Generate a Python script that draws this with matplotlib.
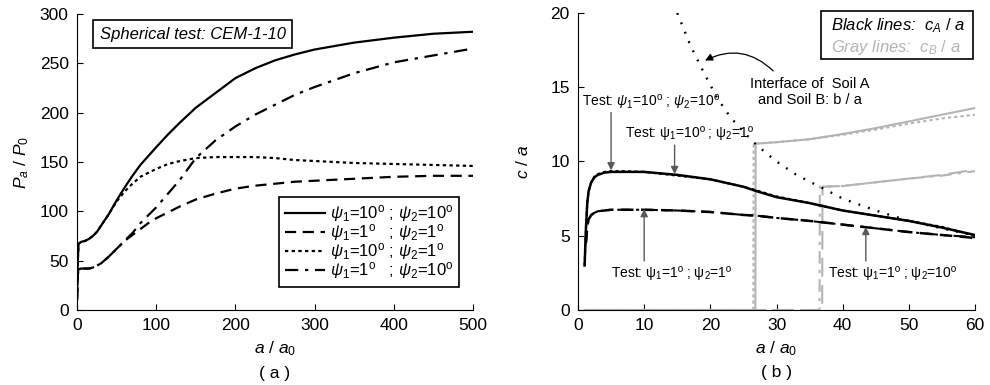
import matplotlib
matplotlib.use("Agg")
import matplotlib.pyplot as plt
from matplotlib.patches import Rectangle

plt.rcParams["font.family"] = ["Liberation Sans", "DejaVu Sans"]
plt.rcParams["mathtext.fontset"] = "custom"
plt.rcParams["mathtext.rm"] = "Liberation Sans"
plt.rcParams["mathtext.it"] = "Liberation Sans:italic"
plt.rcParams["font.size"] = 12.5

# ---- (a) P_a / P_0 vs a / a0 ----
xa = [0, 1, 2, 5, 10, 15, 20, 25, 30, 40, 50, 60, 70, 80, 90, 100, 115, 130, 150, 175,
      200, 225, 250, 275, 300, 350, 400, 450, 500]
p_10_10 = [12, 50, 67, 69, 70, 72, 75, 79, 85, 97, 111, 124, 136, 147, 156, 165, 178, 190, 205, 220,
           235, 245, 253, 259, 264, 271, 276, 280, 282]
p_1_1 = [10, 35, 41, 42, 42, 42, 43, 45, 47, 54, 62, 70, 76, 82, 88, 93, 99, 105, 112, 118,
         123, 126, 128, 130, 131, 133, 135, 136, 136]
p_10_1 = [12, 50, 67, 69, 70, 72, 75, 79, 85, 97, 110, 120, 128, 135, 139, 143, 148, 151, 154, 155,
          155, 155, 154, 152, 151, 149, 148, 147, 146]
p_1_10 = [10, 35, 41, 42, 42, 42, 43, 45, 47, 54, 62, 70, 78, 88, 96, 104, 118, 132, 154, 172,
          186, 198, 208, 218, 226, 240, 251, 258, 265]

labels = [r"$\psi_1$=10$^{\rm o}$ ; $\psi_2$=10$^{\rm o}$",
          r"$\psi_1$=1$^{\rm o}$   ; $\psi_2$=1$^{\rm o}$",
          r"$\psi_1$=10$^{\rm o}$ ; $\psi_2$=1$^{\rm o}$",
          r"$\psi_1$=1$^{\rm o}$   ; $\psi_2$=10$^{\rm o}$"]

# ---- (b) c / a vs a / a0 ----
xb = [1.0, 1.2, 1.4, 1.6, 2, 2.5, 3, 4, 5, 7, 10, 15, 20, 25, 27, 30, 35, 37, 40, 45, 50, 55, 60]
cA_10_10 = [3.0, 5.5, 7.2, 8.0, 8.6, 8.95, 9.1, 9.25, 9.3, 9.3, 9.3, 9.1, 8.8, 8.3, 8.0, 7.6, 7.2,
            7.0, 6.7, 6.35, 6.0, 5.55, 5.05]
cA_10_1 = [3.0, 5.5, 7.2, 8.0, 8.6, 9.0, 9.15, 9.3, 9.35, 9.35, 9.3, 9.05, 8.8, 8.3, 8.05, 7.65, 7.2,
           7.0, 6.7, 6.35, 6.0, 5.6, 5.0]
xb2 = [1.2, 1.4, 1.6, 2, 2.5, 3, 4, 5, 10, 15, 20, 25, 27, 30, 35, 37, 40, 45, 50, 55, 60]
cA_1_1 = [4.5, 5.6, 6.1, 6.4, 6.55, 6.65, 6.7, 6.75, 6.75, 6.7, 6.6, 6.4, 6.35, 6.2, 6.0, 5.9,
          5.75, 5.5, 5.25, 5.05, 4.85]
cA_1_10 = [4.5, 5.6, 6.1, 6.4, 6.55, 6.65, 6.7, 6.75, 6.75, 6.7, 6.6, 6.4, 6.35, 6.2, 6.0, 5.9,
           5.75, 5.5, 5.25, 5.05, 4.9]

xg1 = [1, 26.8, 26.85, 30, 35, 40, 45, 50, 55, 60]
cB_10_10 = [0, 0, 11.2, 11.3, 11.5, 11.85, 12.25, 12.7, 13.15, 13.6]
xg2 = [1, 26.5, 26.55, 30, 35, 40, 45, 50, 55, 60]
cB_10_1 = [0, 0, 11.2, 11.3, 11.5, 11.8, 12.15, 12.55, 12.9, 13.15]
xg3 = [1, 36.9, 36.95, 40, 45, 50, 55, 60]
cB_1_1 = [0, 0, 8.3, 8.35, 8.6, 8.85, 9.1, 9.45]
xg4 = [1, 36.5, 36.55, 40, 45, 50, 55, 60]
cB_1_10 = [0, 0, 8.3, 8.35, 8.6, 8.85, 9.05, 9.35]

x_int = [15, 17, 19, 21, 23, 25, 27, 30, 33, 37, 40, 45, 50, 55, 60]
b_over_a = [20, 17.8, 16.0, 14.3, 13.0, 12.0, 11.1, 10.0, 9.1, 8.2, 7.5, 6.7, 6.0, 5.5, 5.0]

gray = "#b4b4b4"
dash = (0, (5, 3))
dot = (0, (1.5, 1.5))
dashdot = (0, (6, 3, 1.5, 3))

fig = plt.figure(figsize=(9.9, 3.85), dpi=100)

ax1 = fig.add_axes([77 / 990, 75 / 385, 396 / 990, 296 / 385])
ax1.plot(xa, p_10_10, color="k", lw=1.6, label=labels[0])
ax1.plot(xa, p_1_1, color="k", lw=1.6, ls=dash, label=labels[1])
ax1.plot(xa, p_10_1, color="k", lw=1.6, ls=dot, label=labels[2])
ax1.plot(xa, p_1_10, color="k", lw=1.6, ls=dashdot, label=labels[3])
ax1.set_xlim(0, 500)
ax1.set_ylim(0, 300)
ax1.set_xticks(range(0, 501, 100))
ax1.set_yticks(range(0, 301, 50))
ax1.set_xlabel(r"$a\ /\ a_0$", labelpad=4)
ax1.set_ylabel(r"$P_a\ /\ P_0$", labelpad=6)
leg = ax1.legend(loc="lower right", bbox_to_anchor=(0.965, 0.078), fontsize=12,
                 handlelength=2.4, handletextpad=0.3, labelspacing=-0.12, borderpad=0.35,
                 borderaxespad=0, fancybox=False, edgecolor="k", framealpha=1)
leg.get_frame().set_linewidth(1.2)
ax1.text(0.057, 0.932, "Spherical test: CEM-1-10", transform=ax1.transAxes,
         fontsize=12, style="italic", va="center",
         bbox=dict(boxstyle="square,pad=0.38", fc="white", ec="k", lw=1.2))
ax1.text(0.5, -0.213, "( a )", transform=ax1.transAxes, ha="center", va="center")

ax2 = fig.add_axes([578 / 990, 75 / 385, 397 / 990, 297 / 385])
ax2.plot(xg1, cB_10_10, color=gray, lw=1.5)
ax2.plot(xg2, cB_10_1, color=gray, lw=1.5, ls=dot)
ax2.plot(xg3, cB_1_1, color=gray, lw=1.5, ls=(0, (9, 4)))
ax2.plot(xg4, cB_1_10, color=gray, lw=1.5, ls=dashdot)
ax2.plot(xb, cA_10_10, color="k", lw=1.8)
ax2.plot(xb, cA_10_1, color="k", lw=1.5, ls=dot)
ax2.plot(xb2, cA_1_1, color="k", lw=1.8, ls=dash)
ax2.plot(xb2, cA_1_10, color="k", lw=1.5, ls=dashdot)
ax2.plot(x_int, b_over_a, color="k", lw=1.7, ls=(0, (0.8, 3.5)))
ax2.set_xlim(0, 60)
ax2.set_ylim(0, 20)
ax2.set_xticks(range(0, 61, 10))
ax2.set_yticks(range(0, 21, 5))
ax2.set_xlabel(r"$a\ /\ a_0$", labelpad=4)
ax2.set_ylabel(r"$c\ /\ a$", labelpad=14)
ax2.text(0.5, -0.209, "( b )", transform=ax2.transAxes, ha="center", va="center")

ax2.add_patch(Rectangle((0.612, 0.845), 0.383, 0.163, transform=ax2.transAxes,
                        fill=False, ec="k", lw=1.2, clip_on=False))
ax2.text(0.637, 0.958, r"Black lines:  $c_A\ /\ a$", transform=ax2.transAxes,
         style="italic", va="center", fontsize=12)
ax2.text(0.637, 0.885, r"Gray lines:  $c_B\ /\ a$", transform=ax2.transAxes,
         style="italic", va="center", fontsize=12, color=gray)

arrow = dict(arrowstyle="-|>", color="0.35", lw=1, mutation_scale=11, shrinkA=0, shrinkB=0)
fs = 10
ax2.annotate("", xy=(5, 9.4), xytext=(5, 13.3), arrowprops=arrow)
ax2.text(11.1, 14.0, r"Test: $\psi_1$=10$^{\rm o}$ ; $\psi_2$=10$^{\rm o}$", ha="center", va="center", fontsize=fs)
ax2.annotate("", xy=(14.6, 9.15), xytext=(14.6, 11.1), arrowprops=arrow)
ax2.text(16.9, 11.9, "Test: ψ$_1$=10º ; ψ$_2$=1º", ha="center", va="center", fontsize=fs)
ax2.annotate("", xy=(10, 6.8), xytext=(10, 3.3), arrowprops=arrow)
ax2.text(14.2, 2.5, "Test: ψ$_1$=1º ; ψ$_2$=1º", ha="center", va="center", fontsize=fs)
ax2.annotate("", xy=(43.5, 5.6), xytext=(43.5, 3.3), arrowprops=arrow)
ax2.text(47.6, 2.5, "Test: ψ$_1$=1º ; ψ$_2$=10º", ha="center", va="center", fontsize=fs)
ax2.annotate("", xy=(19.2, 16.8), xytext=(29.5, 16.1),
             arrowprops=dict(arrowstyle="-|>", color="k", lw=0.9, mutation_scale=11,
                             shrinkA=0, shrinkB=0, connectionstyle="arc3,rad=0.35"))
ax2.text(35.1, 14.7, "Interface of  Soil A\nand Soil B: b / a", ha="center", va="center",
         fontsize=10.5, linespacing=1.15)

for ax in (ax1, ax2):
    ax.spines["top"].set_visible(False)
    ax.spines["right"].set_visible(False)
    ax.tick_params(direction="in", length=4, pad=6)

fig.savefig("out.png", dpi=100)
